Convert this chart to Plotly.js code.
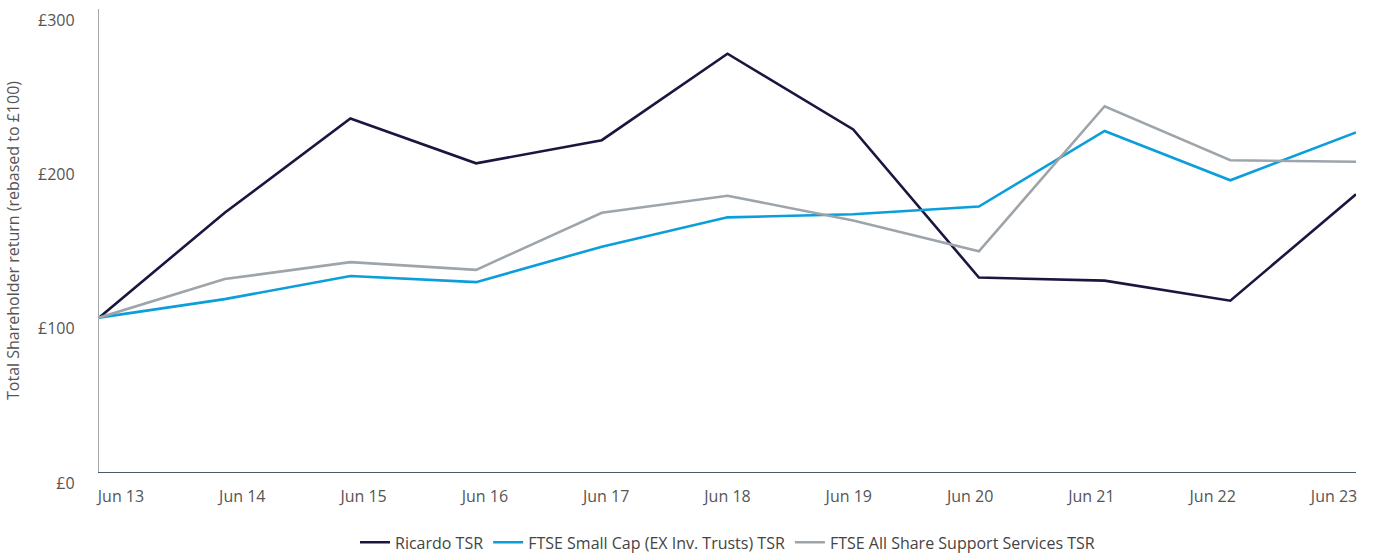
<!DOCTYPE html>
<html>
<head>
<meta charset="utf-8">
<script src="https://cdn.plot.ly/plotly-3.0.1.min.js"></script>
<style>html,body{margin:0;padding:0;background:#fff;}#chart{width:1374px;height:553px;}</style>
</head>
<body>
<div id="chart"></div>
<script>
const periods = ["Jun 13","Jun 14","Jun 15","Jun 16","Jun 17","Jun 18","Jun 19","Jun 20","Jun 21","Jun 22","Jun 23"];
const ricardo = [100,168,229,200,215,271,222,126,124,111,180];
const smallCap = [100,112,127,123,146,165,167,172,221,189,220];
const supportServices = [100,125,136,131,168,179,163,143,237,202,201];
const yTicks = [0,100,200,300];

const idx = periods.map((_, i) => i);
const font = "'Open Sans', 'Noto Sans', sans-serif";

const traces = [
  {x: idx, y: ricardo, name: "Ricardo TSR", type: "scatter", mode: "lines",
   line: {color: "#1b1640", width: 2.6}},
  {x: idx, y: smallCap, name: "FTSE Small Cap (EX Inv. Trusts) TSR", type: "scatter", mode: "lines",
   line: {color: "#0a9edb", width: 2.6}},
  {x: idx, y: supportServices, name: "FTSE All Share Support Services TSR", type: "scatter", mode: "lines",
   line: {color: "#9ea5aa", width: 2.6}},
  // carrier for the category label axis (draws nothing)
  {x: idx, y: ricardo, xaxis: "x2", type: "scatter", mode: "none", showlegend: false, hoverinfo: "skip"}
];

const layout = {
  width: 1374, height: 553,
  margin: {l: 99, r: 18, t: 9, b: 81, autoexpand: false},
  paper_bgcolor: "#fff", plot_bgcolor: "#fff",
  font: {family: font, size: 16, color: "#555"},
  showlegend: true,
  legend: {orientation: "h", x: 0.5, xanchor: "center", y: -0.152, yanchor: "middle",
           font: {size: 16, color: "#444"}, itemwidth: 30, traceorder: "normal"},
  xaxis: {range: [0, 10], showgrid: false, zeroline: false, showline: true,
          linecolor: "#4d5966", linewidth: 1.2, showticklabels: false, ticks: "", fixedrange: true},
  xaxis2: {overlaying: "x", anchor: "y", side: "bottom", range: [-0.181, 10.181],
           tickmode: "array", tickvals: idx, ticktext: periods, showgrid: false, zeroline: false,
           showline: false, ticks: "", ticklabelstandoff: 13,
           tickfont: {size: 16, color: "#555"}},
  yaxis: {range: [0, 300], tickmode: "array", tickvals: yTicks,
          ticktext: yTicks.map(v => "£" + v), showgrid: false, zeroline: false,
          showline: true, linecolor: "#a2a7ab", linewidth: 1.2, ticks: "",
          ticklabelstandoff: 20, ticklabelshift: 11,
          tickfont: {size: 16, color: "#555"},
          title: {text: "Total Shareholder return (rebased to £100)", standoff: 14,
                  font: {size: 16, color: "#555"}}}
};

Plotly.newPlot("chart", traces, layout, {displayModeBar: false, staticPlot: true});
</script>
</body>
</html>
